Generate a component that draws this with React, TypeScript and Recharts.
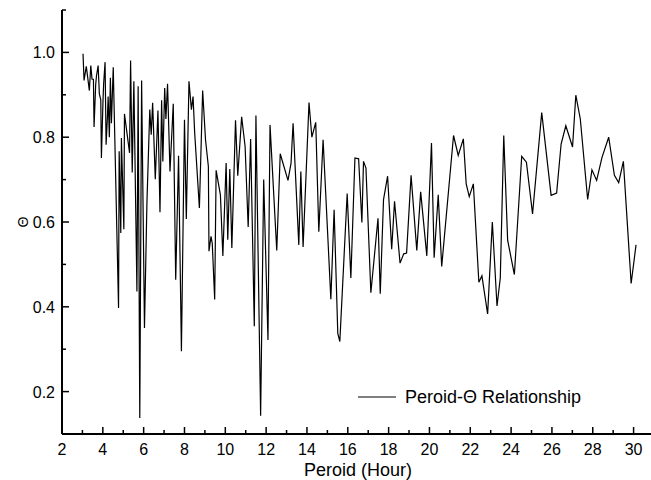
import React from 'react';
import { LineChart, Line, XAxis, YAxis } from 'recharts';

// period (hour)
const periods = [
  3.03, 3.08, 3.19, 3.34, 3.41, 3.47, 3.54, 3.57, 3.65, 3.69,
  3.77, 3.83, 3.9, 3.93, 4.01, 4.04, 4.11, 4.16, 4.23, 4.26,
  4.32, 4.37, 4.42, 4.51, 4.77, 4.8, 4.88, 4.91, 5.03, 5.06,
  5.31, 5.36, 5.44, 5.52, 5.67, 5.73, 5.81, 5.9, 6.04, 6.16,
  6.3, 6.37, 6.44, 6.57, 6.7, 6.8, 6.88, 6.94, 7.03, 7.09,
  7.17, 7.29, 7.45, 7.57, 7.71, 7.85, 8.0, 8.09, 8.22, 8.34,
  8.42, 8.5, 8.73, 8.89, 9.03, 9.17, 9.2, 9.3, 9.36, 9.48,
  9.55, 9.76, 9.88, 10.04, 10.12, 10.22, 10.32, 10.5, 10.61, 10.8,
  10.97, 11.12, 11.24, 11.42, 11.5, 11.73, 11.88, 12.09, 12.19, 12.52,
  12.69, 13.07, 13.22, 13.32, 13.6, 13.7, 13.81, 14.1, 14.24, 14.43,
  14.58, 14.79, 15.17, 15.33, 15.51, 15.61, 15.97, 16.15, 16.35, 16.53,
  16.69, 16.77, 16.89, 17.13, 17.48, 17.59, 17.75, 17.95, 18.15, 18.29,
  18.56, 18.74, 18.88, 19.1, 19.38, 19.57, 19.87, 20.1, 20.23, 20.43,
  20.6, 21.18, 21.41, 21.66, 21.8, 21.95, 22.15, 22.42, 22.57, 22.85,
  23.08, 23.31, 23.47, 23.64, 23.83, 24.16, 24.52, 24.75, 25.05, 25.5,
  25.96, 26.23, 26.45, 26.68, 27.01, 27.17, 27.39, 27.75, 27.96, 28.19,
  28.45, 28.78, 29.06, 29.27, 29.5, 29.88, 30.12,
];

// theta values, same order
const theta = [
  0.997, 0.934, 0.967, 0.91, 0.969, 0.937, 0.936, 0.824, 0.924, 0.945,
  0.969, 0.902, 0.888, 0.751, 0.888, 0.926, 0.977, 0.782, 0.853, 0.896,
  0.8, 0.94, 0.833, 0.965, 0.397, 0.767, 0.574, 0.798, 0.583, 0.855,
  0.763, 0.981, 0.717, 0.932, 0.436, 0.92, 0.138, 0.934, 0.35, 0.645,
  0.865, 0.806, 0.881, 0.701, 0.863, 0.623, 0.887, 0.743, 0.916, 0.843,
  0.926, 0.719, 0.879, 0.464, 0.756, 0.295, 0.841, 0.607, 0.932, 0.865,
  0.896, 0.81, 0.633, 0.91, 0.794, 0.731, 0.531, 0.566, 0.55, 0.417,
  0.722, 0.664, 0.52, 0.739, 0.558, 0.725, 0.539, 0.84, 0.709, 0.848,
  0.778, 0.588, 0.796, 0.354, 0.851, 0.143, 0.7, 0.322, 0.829, 0.533,
  0.761, 0.698, 0.739, 0.833, 0.546, 0.719, 0.541, 0.882, 0.8, 0.835,
  0.577, 0.794, 0.418, 0.629, 0.337, 0.318, 0.667, 0.468, 0.751, 0.749,
  0.599, 0.743, 0.727, 0.433, 0.609, 0.431, 0.653, 0.708, 0.536, 0.649,
  0.503, 0.525, 0.527, 0.71, 0.533, 0.671, 0.52, 0.786, 0.516, 0.664,
  0.495, 0.804, 0.757, 0.796, 0.69, 0.66, 0.69, 0.458, 0.473, 0.383,
  0.6, 0.402, 0.468, 0.804, 0.557, 0.476, 0.755, 0.741, 0.619, 0.858,
  0.663, 0.668, 0.784, 0.827, 0.777, 0.899, 0.843, 0.653, 0.723, 0.698,
  0.752, 0.8, 0.71, 0.693, 0.743, 0.455, 0.546,
];

const xTicks = [2, 3, 4, 5, 6, 7, 8, 9, 10, 11, 12, 13, 14, 15, 16, 17, 18, 19, 20, 21, 22, 23, 24, 25, 26, 27, 28, 29, 30, 31];
const yTicks = [0.1, 0.2, 0.3, 0.4, 0.5, 0.6, 0.7, 0.8, 0.9, 1.0, 1.1];
const xMajor = [2, 4, 6, 8, 10, 12, 14, 16, 18, 20, 22, 24, 26, 28, 30];
const yMajor = ['0.2', '0.4', '0.6', '0.8', '1.0'];

const data = periods.map((p, i) => ({ period: p, theta: theta[i] }));

const FONT = '"Liberation Sans", Arial, sans-serif';
const MAJOR = 7;
const MINOR = 4;

const BottomTick = ({ x, y, payload }: any) => {
  const major = xMajor.includes(payload.value);
  return (
    <g>
      <line x1={x} x2={x} y1={y} y2={y - (major ? MAJOR : MINOR)} stroke="#000" strokeWidth={1.5} />
      {major && (
        <text x={x} y={y + 21} textAnchor="middle" fontSize={16} fontFamily={FONT} fill="#000">
          {payload.value}
        </text>
      )}
    </g>
  );
};

const TopTick = ({ x, y, payload }: any) => {
  const major = xMajor.includes(payload.value);
  return <line x1={x} x2={x} y1={y} y2={y + (major ? MAJOR : MINOR)} stroke="#000" strokeWidth={1.5} />;
};

const LeftTick = ({ x, y, payload }: any) => {
  const label = payload.value.toFixed(1);
  const major = yMajor.includes(label);
  return (
    <g>
      <line x1={x} x2={x + (major ? MAJOR : MINOR)} y1={y} y2={y} stroke="#000" strokeWidth={1.5} />
      {major && (
        <text x={x - 7} y={y + 6} textAnchor="end" fontSize={16} fontFamily={FONT} fill="#000">
          {label}
        </text>
      )}
    </g>
  );
};

const RightTick = ({ x, y, payload }: any) => {
  const major = yMajor.includes(payload.value.toFixed(1));
  return <line x1={x} x2={x - (major ? MAJOR : MINOR)} y1={y} y2={y} stroke="#000" strokeWidth={1.5} />;
};

const axisLine = { stroke: '#000', strokeWidth: 2 };

export default function App() {
  return (
    <div style={{ position: 'absolute', left: 0, top: 0, width: 651, height: 480, overflow: 'hidden', background: '#fff' }}>
      <LineChart width={656} height={480} data={data} margin={{ top: 10, right: 2, bottom: 0, left: 0 }}>
        <XAxis
          dataKey="period"
          type="number"
          domain={[2, 31]}
          ticks={xTicks}
          interval={0}
          tick={BottomTick}
          tickLine={false}
          tickSize={0}
          tickMargin={0}
          axisLine={axisLine}
          height={46}
          allowDataOverflow
          label={{
            content: () => (
              <text x={358} y={476} textAnchor="middle" fontSize={18} fontFamily={FONT} fill="#000">
                Peroid (Hour)
              </text>
            ),
          }}
        />
        <XAxis
          xAxisId="top"
          orientation="top"
          type="number"
          domain={[2, 31]}
          ticks={xTicks}
          interval={0}
          tick={TopTick}
          tickLine={false}
          tickSize={0}
          tickMargin={0}
          axisLine={axisLine}
          height={0}
          allowDataOverflow
        />
        <YAxis
          type="number"
          domain={[0.1, 1.1]}
          ticks={yTicks}
          interval={0}
          tick={LeftTick}
          tickLine={false}
          tickSize={0}
          tickMargin={0}
          axisLine={axisLine}
          width={62}
          allowDataOverflow
          label={{
            content: () => (
              <text
                x={23}
                y={222}
                transform="rotate(-90 23 222)"
                textAnchor="middle"
                dominantBaseline="central"
                fontSize={14}
                fontFamily={FONT}
                fill="#000"
              >
                Θ
              </text>
            ),
          }}
        />
        <YAxis
          yAxisId="right"
          orientation="right"
          type="number"
          domain={[0.1, 1.1]}
          ticks={yTicks}
          interval={0}
          tick={RightTick}
          tickLine={false}
          tickSize={0}
          tickMargin={0}
          axisLine={axisLine}
          width={0}
          allowDataOverflow
        />
        <Line
          type="linear"
          dataKey="theta"
          stroke="#000"
          strokeWidth={1.2}
          dot={false}
          isAnimationActive={false}
        />
      </LineChart>
      <div style={{ position: 'absolute', left: 358, top: 386, display: 'flex', alignItems: 'center', fontFamily: FONT, fontSize: 18 }}>
        <svg width={38} height={22}>
          <line x1={0} x2={38} y1={11} y2={11} stroke="#000" strokeWidth={1.2} />
        </svg>
        <span style={{ marginLeft: 9 }}>Peroid-Θ Relationship</span>
      </div>
    </div>
  );
}
